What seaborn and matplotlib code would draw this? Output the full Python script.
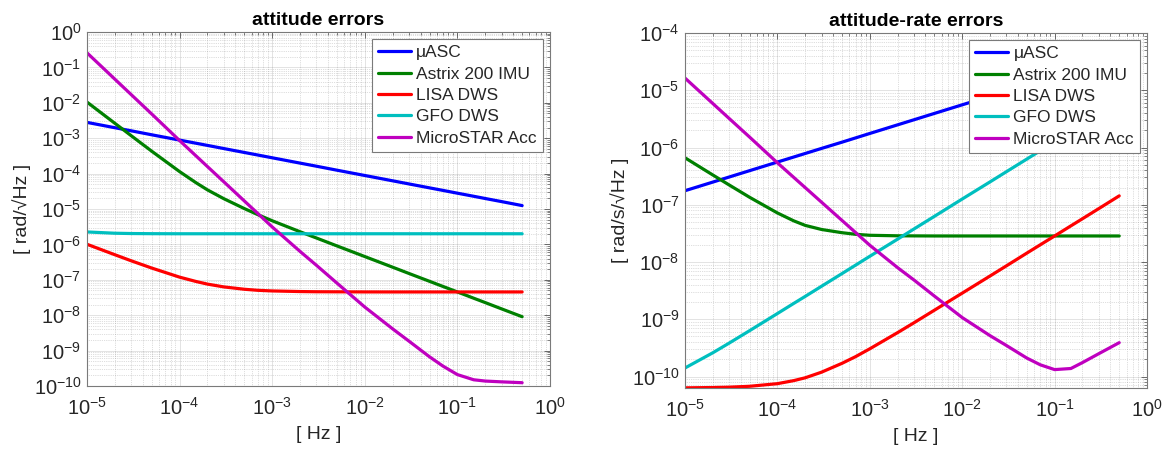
import numpy as np
import pandas as pd
import seaborn as sns
import matplotlib.pyplot as plt
from matplotlib.ticker import LogLocator, NullFormatter

# frequency grid [Hz]
freq = [1e-5, 2e-5, 3e-5, 5e-5, 1e-4, 1.5e-4, 2e-4, 3e-4, 5e-4, 7e-4, 1e-3, 2e-3, 3e-3,
        5e-3, 1e-2, 2e-2, 3e-2, 5e-2, 7e-2, 0.1, 0.15, 0.2, 0.3, 0.5]

names = ['μASC', 'Astrix 200 IMU', 'LISA DWS', 'GFO DWS', 'MicroSTAR Acc']
colors = ['#0000ff', '#008000', '#ff0000', '#00bfbf', '#bf00bf']

# attitude errors [rad/sqrt(Hz)]
att_uasc = [2.80e-3, 1.98e-3, 1.62e-3, 1.25e-3, 8.85e-4, 7.23e-4, 6.26e-4, 5.11e-4, 3.96e-4, 3.35e-4, 2.80e-4,
            1.98e-4, 1.62e-4, 1.25e-4, 8.85e-5, 6.26e-5, 5.11e-5, 3.96e-5, 3.35e-5, 2.80e-5, 2.29e-5, 1.98e-5,
            1.62e-5, 1.25e-5]
att_astrix = [1.05e-2, 2.64e-3, 1.18e-3, 4.30e-4, 1.14e-4, 5.56e-5, 3.47e-5, 1.96e-5, 1.03e-5, 6.93e-6, 4.66e-6,
              2.28e-6, 1.52e-6, 9.08e-7, 4.54e-7, 2.27e-7, 1.51e-7, 9.07e-8, 6.48e-8, 4.54e-8, 3.02e-8, 2.27e-8,
              1.51e-8, 9.07e-9]
att_lisa = [1.01e-6, 5.11e-7, 3.45e-7, 2.15e-7, 1.19e-7, 8.99e-8, 7.56e-8, 6.31e-8, 5.41e-8, 5.05e-8, 4.85e-8,
            4.66e-8, 4.60e-8, 4.58e-8, 4.55e-8, 4.54e-8, 4.54e-8, 4.54e-8, 4.54e-8, 4.54e-8, 4.54e-8, 4.54e-8,
            4.54e-8, 4.54e-8]
att_gfo = [2.25e-6, 2.07e-6, 2.03e-6, 2.01e-6, 2.00e-6, 2.00e-6, 2.00e-6, 2.00e-6, 2.00e-6, 2.00e-6, 2.00e-6,
           2.00e-6, 2.00e-6, 2.00e-6, 2.00e-6, 2.00e-6, 2.00e-6, 2.00e-6, 2.00e-6, 2.00e-6, 2.00e-6, 2.00e-6,
           2.00e-6, 2.00e-6]
att_micro = [0.259, 4.66e-2, 1.71e-2, 4.84e-3, 8.59e-4, 3.19e-4, 1.58e-4, 5.89e-5, 1.69e-5, 7.46e-6, 3.12e-6,
             6.33e-7, 2.58e-7, 8.09e-8, 1.70e-8, 4.11e-9, 1.85e-9, 6.68e-10, 3.64e-10, 2.10e-10, 1.50e-10,
             1.38e-10, 1.31e-10, 1.24e-10]

# attitude-rate errors [rad/s/sqrt(Hz)]
rate_uasc = [1.76e-7, 2.49e-7, 3.05e-7, 3.94e-7, 5.57e-7, 6.82e-7, 7.87e-7, 9.64e-7, 1.24e-6, 1.47e-6, 1.76e-6,
             2.49e-6, 3.05e-6, 3.94e-6, 5.57e-6, 7.87e-6, 9.64e-6, 1.24e-5, 1.47e-5, 1.76e-5, 2.16e-5, 2.49e-5,
             3.05e-5, 3.94e-5]
rate_astrix = [6.61e-7, 3.31e-7, 2.22e-7, 1.35e-7, 7.19e-8, 5.24e-8, 4.36e-8, 3.70e-8, 3.25e-8, 3.05e-8, 2.93e-8,
               2.87e-8, 2.86e-8, 2.85e-8, 2.85e-8, 2.85e-8, 2.85e-8, 2.85e-8, 2.85e-8, 2.85e-8, 2.85e-8, 2.85e-8,
               2.85e-8, 2.85e-8]
rate_lisa = [6.34e-11, 6.42e-11, 6.51e-11, 6.75e-11, 7.50e-11, 8.47e-11, 9.50e-11, 1.19e-10, 1.70e-10, 2.22e-10,
             3.05e-10, 5.85e-10, 8.67e-10, 1.44e-9, 2.86e-9, 5.70e-9, 8.55e-9, 1.43e-8, 2.00e-8, 2.85e-8, 4.28e-8,
             5.70e-8, 8.55e-8, 1.43e-7]
rate_gfo = [1.41e-10, 2.60e-10, 3.83e-10, 6.32e-10, 1.26e-9, 1.89e-9, 2.51e-9, 3.77e-9, 6.28e-9, 8.80e-9, 1.26e-8,
            2.51e-8, 3.77e-8, 6.28e-8, 1.26e-7, 2.51e-7, 3.77e-7, 6.28e-7, 8.80e-7, 1.26e-6, 1.89e-6, 2.51e-6,
            3.77e-6, 6.28e-6]
rate_micro = [1.63e-5, 5.86e-6, 3.22e-6, 1.52e-6, 5.40e-7, 3.01e-7, 1.99e-7, 1.11e-7, 5.32e-8, 3.28e-8, 1.96e-8,
              7.96e-9, 4.86e-9, 2.54e-9, 1.07e-9, 5.17e-10, 3.49e-10, 2.10e-10, 1.60e-10, 1.32e-10, 1.38e-10,
              1.75e-10, 2.50e-10, 3.90e-10]


def long_frame(series):
    parts = []
    for name, vals in zip(names, series):
        parts.append(pd.DataFrame({'f': freq, 'v': vals, 'name': name}))
    return pd.concat(parts, ignore_index=True)


att_df = long_frame([att_uasc, att_astrix, att_lisa, att_gfo, att_micro])
rate_df = long_frame([rate_uasc, rate_astrix, rate_lisa, rate_gfo, rate_micro])

sns.set_theme(style='white')
plt.rcParams['font.family'] = ['Liberation Sans', 'DejaVu Sans']
plt.rcParams['mathtext.fontset'] = 'custom'
plt.rcParams['mathtext.rm'] = 'Liberation Sans'
plt.rcParams['mathtext.it'] = 'Liberation Sans:italic'

edge = '#262626'

fig = plt.figure(figsize=(11.69, 4.51), dpi=100)
ax1 = fig.add_axes([0.0744, 0.1441, 0.3961, 0.7849])
ax2 = fig.add_axes([0.586, 0.1397, 0.3952, 0.7871])


def draw(ax, df, ylim, title, ylabel):
    ax.set_xscale('log')
    ax.set_yscale('log')
    sns.lineplot(data=df, x='f', y='v', hue='name', hue_order=names, palette=colors,
                 lw=2.3, sort=False, ax=ax)
    ax.set_xlim(1e-5, 1)
    ax.set_ylim(*ylim)
    for axis in (ax.xaxis, ax.yaxis):
        axis.set_major_locator(LogLocator(base=10, numticks=30))
        axis.set_minor_locator(LogLocator(base=10, subs=np.arange(2, 10), numticks=300))
        axis.set_minor_formatter(NullFormatter())
    ax.grid(which='major', color=edge, alpha=0.15, lw=0.6, ls='-')
    ax.grid(which='minor', color=edge, alpha=0.3, lw=0.5, ls=':')
    ax.tick_params(which='both', direction='in', top=True, right=True, color='#555555', labelcolor=edge)
    ax.tick_params(which='major', length=4, width=0.6, labelsize=14.5)
    ax.tick_params(which='minor', length=2, width=0.5)
    ax.tick_params(axis='x', pad=8)
    ax.tick_params(axis='y', pad=4)
    for sp in ax.spines.values():
        sp.set_color('#7a7a7a')
        sp.set_linewidth(0.8)
    ax.set_title(title, fontsize=14, fontweight='bold', color='black', pad=5)
    ax.set_xlabel('[ Hz ]', fontsize=14, color=edge, labelpad=5)
    ax.set_ylabel(ylabel, fontsize=14, color=edge, labelpad=2)
    handles, labels = ax.get_legend_handles_labels()
    leg = ax.legend(handles, labels, loc='upper right', fontsize=12.5, frameon=True, fancybox=False,
                    edgecolor='#7a7a7a', framealpha=1, handlelength=1.9, handletextpad=0.3,
                    labelspacing=0.36, borderpad=0.35, borderaxespad=0.4)
    leg.get_frame().set_linewidth(0.8)
    for line in leg.get_lines():
        line.set_linewidth(2.3)


draw(ax1, att_df, (1e-10, 1), 'attitude errors', '[ rad/√Hz ]')
draw(ax2, rate_df, (6.3e-11, 1e-4), 'attitude-rate errors', '[ rad/s/√Hz ]')

fig.savefig('out.png', dpi=100)
